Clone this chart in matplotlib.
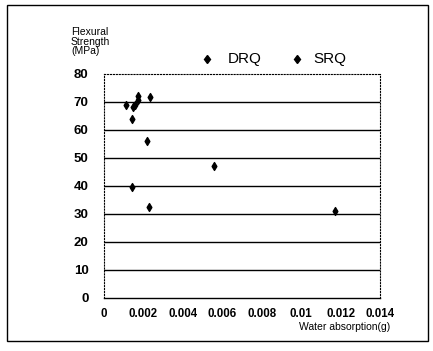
import matplotlib
matplotlib.use("Agg")
import matplotlib.pyplot as plt
from matplotlib.patches import Rectangle

# water absorption (g) vs flexural strength (MPa)
drq_x = [0.0011, 0.00148, 0.0017, 0.00142, 0.0014, 0.0023]
drq_y = [69.0, 68.3, 70.8, 63.8, 39.6, 32.6]
srq_x = [0.00158, 0.0017, 0.00232, 0.0022, 0.0056, 0.0117]
srq_y = [69.0, 72.0, 71.9, 56.2, 47.2, 31.0]

x_ticks = [0, 0.002, 0.004, 0.006, 0.008, 0.01, 0.012, 0.014]
x_labels = ["0", "0.002", "0.004", "0.006", "0.008", "0.01", "0.012", "0.014"]
y_ticks = [0, 10, 20, 30, 40, 50, 60, 70, 80]

arial = ["Liberation Sans", "DejaVu Sans"]

fig = plt.figure(figsize=(4.33, 3.51), dpi=100)
ax = fig.add_axes([104 / 433, 1 - 298 / 351, 276 / 433, 224 / 351])

ax.scatter(drq_x, drq_y, marker="d", s=16, color="black", zorder=3)
ax.scatter(srq_x, srq_y, marker="d", s=16, color="black", zorder=3)

ax.set_xlim(0, 0.014)
ax.set_ylim(0, 80)
ax.set_xticks(x_ticks)
ax.set_xticklabels(x_labels, family=arial, weight="bold", fontsize=8.3)
ax.set_yticks(y_ticks)
ax.set_yticklabels([str(v) for v in y_ticks], family=arial, weight="bold",
                   fontsize=9.5)
ax.tick_params(axis="x", length=0, pad=7)
ax.tick_params(axis="y", length=0, pad=11)
for y in y_ticks[1:-1]:
    ax.axhline(y, color="black", lw=1.0, zorder=1)

for side in ["left", "top", "right"]:
    ax.spines[side].set_linestyle(":")
    ax.spines[side].set_linewidth(0.8)
ax.spines["bottom"].set_linewidth(1.0)

fig.text(71 / 433, 1 - 27 / 351, "Flexural\nStrength\n(MPa)", fontsize=7.5,
         family=arial, va="top", ha="left", linespacing=0.95)
fig.text(390 / 433, 1 - 327 / 351, "Water absorption(g)", fontsize=7.5,
         family=arial, ha="right", va="center")

# legend
leg_y = 1 - 59 / 351
fig.lines.append(plt.Line2D([207 / 433], [leg_y], marker="d", ms=4.5,
                            color="black", transform=fig.transFigure))
fig.text(228 / 433, leg_y, "DRQ", fontsize=11, family=arial, va="center")
fig.lines.append(plt.Line2D([297 / 433], [leg_y], marker="d", ms=4.5,
                            color="black", transform=fig.transFigure))
fig.text(313 / 433, leg_y, "SRQ", fontsize=11, family=arial, va="center")

fig.patches.append(Rectangle((7 / 433, 1 - 341 / 351), 421 / 433, 336 / 351,
                             transform=fig.transFigure, fill=False,
                             edgecolor="black", lw=1.0))

fig.savefig("out.png", dpi=100)
